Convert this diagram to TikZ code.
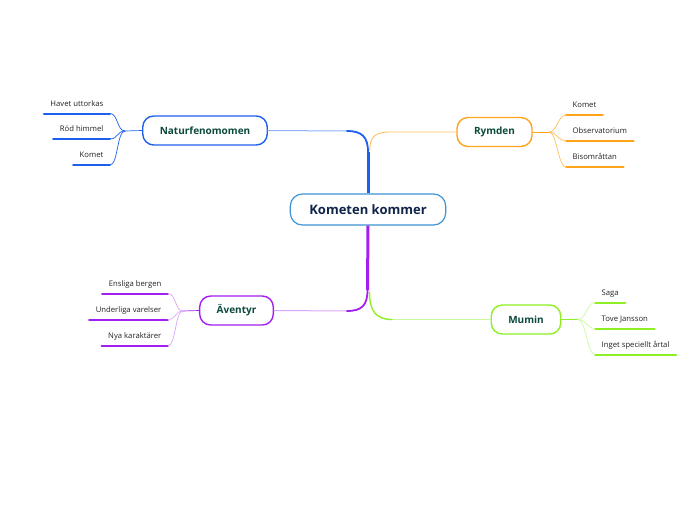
\documentclass[tikz,border=0pt]{standalone}
\usepackage{fontspec}
\setmainfont{Open Sans}
\usepackage{xcolor}
\usetikzlibrary{calc, positioning}

\definecolor{rubrik}{HTML}{10244A}
\definecolor{grentext}{HTML}{0B4A3C}
\definecolor{bladtext}{HTML}{222222}
\definecolor{mittbla}{HTML}{3C93D6}
\definecolor{natbla}{HTML}{1F5FF0}
\definecolor{natljus}{HTML}{8FB0F7}
\definecolor{rymorange}{HTML}{FFA31A}
\definecolor{rymljus}{HTML}{FFBE5C}
\definecolor{avlila}{HTML}{A31FEF}
\definecolor{avljus}{HTML}{D9A6F7}
\definecolor{mumgron}{HTML}{8CF022}
\definecolor{mumljus}{HTML}{C9F99E}

\begin{document}
\begin{tikzpicture}[x=1pt, y=-1pt, line cap=round,
    huvud/.style={draw=mittbla, line width=1.2pt, rounded corners=12pt, fill=white,
        inner xsep=19pt, minimum height=31pt, text=rubrik,
        font=\fontsize{13}{15}\selectfont\bfseries},
    gren/.style={draw=#1, line width=1.4pt, rounded corners=11pt, fill=white,
        inner xsep=17pt, minimum height=29pt, text=grentext,
        font=\fontsize{10}{12}\selectfont\bfseries},
    blad/.style={inner xsep=6.5pt, inner ysep=4.5pt, text height=0.75em, text depth=0.25em,
        text=bladtext, font=\fontsize{7.7}{9}\selectfont},
    understruk/.style={draw=#1, line width=2pt},
    tunn/.style={draw=#1, line width=0.7pt}]
    \useasboundingbox (0,0) rectangle (696,520);

    % Huvudnod och grenar
    \node[huvud] (rot) at (368,209.5) {Kometen kommer};
    \node[gren=natbla] (nat) at (205,130.5) {Naturfenomomen};
    \node[gren=rymorange] (rym) at (494.5,132) {Rymden};
    \node[gren=avlila] (av) at (236.5,310.5) {Äventyr};
    \node[gren=mumgron] (mum) at (526,319.5) {Mumin};

    % Stammen och grenarnas linjer
    \coordinate (natbock) at (368,152);
    \coordinate (natslut) at (347,131);
    \draw[natljus, line width=1pt] (natslut) -- (nat.east);
    \draw[natbla, line width=1.8pt] (natbock) .. controls (368,137) and (362,131) .. (natslut);
    \draw[natbla, line width=3pt, line cap=butt] (rot.north) -- (natbock);

    \coordinate (rymstart) at (369.8,150);
    \coordinate (rymslut) at (390,132);
    \draw[rymljus, line width=0.9pt] (rymstart) .. controls (369.8,137) and (375,132) .. (rymslut) -- (rym.west);

    \coordinate (avbock) at (367.5,290);
    \coordinate (avslut) at (347,311);
    \draw[avljus, line width=1pt] (avslut) -- (av.east);
    \draw[avlila, line width=1.8pt] (avbock) .. controls (367.5,305) and (362,311) .. (avslut);
    \draw[avlila, line width=3pt, line cap=butt] (rot.south) -- (avbock);

    \coordinate (mumstart) at (369.5,292);
    \coordinate (mumslut) at (392,319.5);
    \draw[mumljus, line width=1.1pt] (mumslut) -- (mum.west);
    \draw[mumgron, line width=1.4pt] (mumstart) .. controls (369.5,311) and (376,319.5) .. (mumslut);

    % Naturfenomomen
    \coordinate (nathub) at (125,131);
    \draw[tunn=natbla] (nat.west) -- (nathub);
    \node[blad, anchor=south east] (n1) at (110,113.5) {Havet uttorkas};
    \node[blad, anchor=south east] (n2) at (110,139) {Röd himmel};
    \node[blad, anchor=south east] (n3) at (110,165) {Komet};
    \draw[understruk=natbla] (n1.south west) -- (n1.south east);
    \draw[understruk=natbla] (n2.south west) -- (n2.south east);
    \draw[understruk=natbla] (n3.south west) -- (n3.south east);
    \draw[tunn=natbla] (nathub) .. controls +(-8,0) and +(8,0) .. (n1.south east);
    \draw[tunn=natbla] (nathub) .. controls +(-8,0) and +(8,0) .. (n2.south east);
    \draw[tunn=natbla] (nathub) .. controls +(-8,0) and +(8,0) .. (n3.south east);

    % Rymden
    \coordinate (rymhub) at (549,132);
    \draw[tunn=rymorange] (rym.east) -- (rymhub);
    \node[blad, anchor=south west] (r1) at (566,115) {Komet};
    \node[blad, anchor=south west] (r2) at (566,141) {Observatorium};
    \node[blad, anchor=south west] (r3) at (566,167) {Bisområttan};
    \draw[understruk=rymorange] (r1.south west) -- (r1.south east);
    \draw[understruk=rymorange] (r2.south west) -- (r2.south east);
    \draw[understruk=rymorange] (r3.south west) -- (r3.south east);
    \draw[tunn=rymljus] (rymhub) .. controls +(8,0) and +(-8,0) .. (r1.south west);
    \draw[tunn=rymljus] (rymhub) .. controls +(8,0) and +(-8,0) .. (r2.south west);
    \draw[tunn=rymljus] (rymhub) .. controls +(8,0) and +(-8,0) .. (r3.south west);

    % Äventyr
    \coordinate (avhub) at (183,311);
    \draw[tunn=avlila] (av.west) -- (avhub);
    \node[blad, anchor=south east] (a1) at (168,293.5) {Ensliga bergen};
    \node[blad, anchor=south east] (a2) at (168,319.5) {Underliga varelser};
    \node[blad, anchor=south east] (a3) at (168,345.5) {Nya karaktärer};
    \draw[understruk=avlila] (a1.south west) -- (a1.south east);
    \draw[understruk=avlila] (a2.south west) -- (a2.south east);
    \draw[understruk=avlila] (a3.south west) -- (a3.south east);
    \draw[tunn=avljus] (avhub) .. controls +(-8,0) and +(8,0) .. (a1.south east);
    \draw[tunn=avljus] (avhub) .. controls +(-8,0) and +(8,0) .. (a2.south east);
    \draw[tunn=avljus] (avhub) .. controls +(-8,0) and +(8,0) .. (a3.south east);

    % Mumin
    \coordinate (mumhub) at (578,319.5);
    \draw[tunn=mumgron] (mum.east) -- (mumhub);
    \node[blad, anchor=south west] (m1) at (595,302.5) {Saga};
    \node[blad, anchor=south west] (m2) at (595,328.5) {Tove Jansson};
    \node[blad, anchor=south west] (m3) at (595,354.5) {Inget speciellt årtal};
    \draw[understruk=mumgron] (m1.south west) -- (m1.south east);
    \draw[understruk=mumgron] (m2.south west) -- (m2.south east);
    \draw[understruk=mumgron] (m3.south west) -- (m3.south east);
    \draw[tunn=mumljus] (mumhub) .. controls +(8,0) and +(-8,0) .. (m1.south west);
    \draw[tunn=mumljus] (mumhub) .. controls +(8,0) and +(-8,0) .. (m2.south west);
    \draw[tunn=mumljus] (mumhub) .. controls +(8,0) and +(-8,0) .. (m3.south west);
\end{tikzpicture}
\end{document}
